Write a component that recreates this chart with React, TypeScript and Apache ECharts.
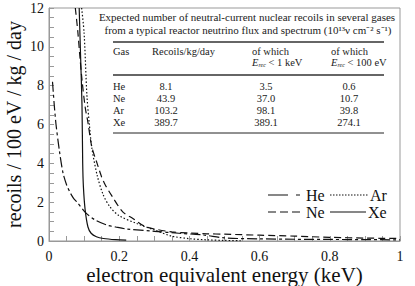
import React, { useEffect, useRef } from "react";
import * as echarts from "echarts";

// ---- data ----
const heX = [0.01, 0.015, 0.02, 0.03, 0.04, 0.05, 0.06, 0.07, 0.08, 0.105, 0.13, 0.165, 0.19, 0.22, 0.3, 0.37, 0.44, 0.5, 0.6, 0.7, 0.8, 0.9, 1.0];
const heY = [8.2, 7.0, 6.0, 4.6, 3.5, 2.9, 2.5, 2.2, 2.0, 1.45, 1.1, 0.82, 0.72, 0.62, 0.5, 0.4, 0.31, 0.16, 0.11, 0.09, 0.08, 0.07, 0.06];

const neX = [0.075, 0.082, 0.088, 0.094, 0.103, 0.111, 0.122, 0.137, 0.15, 0.16, 0.18, 0.21, 0.24, 0.27, 0.3, 0.35, 0.4, 0.45, 0.5, 0.6, 0.7, 0.8, 0.9, 1.0];
const neY = [12, 10.8, 9.5, 8.3, 6.9, 6.1, 4.85, 4.0, 3.3, 2.9, 2.3, 1.5, 1.15, 0.78, 0.62, 0.47, 0.41, 0.37, 0.35, 0.3, 0.25, 0.19, 0.15, 0.13];

const arX = [0.093, 0.1, 0.108, 0.115, 0.122, 0.137, 0.154, 0.174, 0.2, 0.25, 0.3, 0.35, 0.4, 0.45, 0.5, 0.55];
const arY = [12, 10.7, 7.5, 6.0, 4.8, 3.4, 2.4, 1.75, 1.3, 0.9, 0.57, 0.25, 0.12, 0.06, 0.03, 0.01];

const xeX = [0.086, 0.09, 0.094, 0.096, 0.098, 0.103, 0.111, 0.12, 0.135, 0.155, 0.19, 0.22];
const xeY = [12, 9.5, 7.0, 4.0, 2.8, 1.6, 0.72, 0.4, 0.22, 0.13, 0.07, 0.05];

const gases = ["He", "Ne", "Ar", "Xe"];
const recoilsTotal = ["8.1", "43.9", "103.2", "389.7"];
const recoilsBelow1keV = ["3.5", "37.0", "98.1", "389.1"];
const recoilsBelow100eV = ["0.6", "10.7", "39.8", "274.1"];

const xTicks = [0, 0.2, 0.4, 0.6, 0.8, 1];
const yTicks = [0, 2, 4, 6, 8, 10, 12];

const pair = (xs: number[], ys: number[]) => xs.map((x, i) => [x, ys[i]]);

const SERIF = "'Liberation Serif', 'Times New Roman', serif";

export default function App() {
  const ref = useRef<HTMLDivElement>(null);
  useEffect(() => {
    if (!ref.current) return;
    const chart = echarts.init(ref.current, undefined, { renderer: "svg" });
    const rowY = [86, 98, 110, 122];
    const tableText: any[] = [];
    const FS = 10.5;
    const T = (text: string, x: number, y: number, align = "left", extra: any = {}) => ({
      type: "text",
      x,
      y,
      style: {
        text,
        fontFamily: SERIF,
        fontSize: FS,
        fill: "#222",
        textAlign: align,
        textVerticalAlign: "middle",
        ...extra,
      },
    });
    tableText.push(T("Expected number of neutral-current nuclear recoils in several gases", 247, 17, "center", { fontSize: 11 }));
    tableText.push(T("from a typical reactor neutrino flux and spectrum (10\u00b9\u00b3\u03bd cm\u207b\u00b2 s\u207b\u00b9)", 248, 30, "center", { fontSize: 11 }));
    tableText.push(T("Gas", 113, 51));
    tableText.push(T("Recoils/kg/day", 152, 51));
    tableText.push(T("of which", 252, 51));
    tableText.push(T("of which", 331, 51));
    const rich = {
      e: { fontFamily: SERIF, fontSize: FS, fontStyle: "italic", fill: "#222" },
      s: { fontFamily: SERIF, fontSize: 6, fontStyle: "italic", fill: "#222", padding: [5, 0, 0, 0] },
      n: { fontFamily: SERIF, fontSize: FS, fill: "#222" },
    };
    tableText.push({ type: "text", x: 252, y: 62, style: { text: "{e|E}{s|rec}{n| < 1 keV}", rich, textVerticalAlign: "middle" } });
    tableText.push({ type: "text", x: 331, y: 62, style: { text: "{e|E}{s|rec}{n| < 100 eV}", rich, textVerticalAlign: "middle" } });
    gases.forEach((g, i) => {
      tableText.push(T(g, 113, rowY[i]));
      tableText.push(T(recoilsTotal[i], 166, rowY[i], "center"));
      tableText.push(T(recoilsBelow1keV[i], 266, rowY[i], "center"));
      tableText.push(T(recoilsBelow100eV[i], 349, rowY[i], "center"));
    });
    const rules = [
      { type: "line", shape: { x1: 113, y1: 42, x2: 384, y2: 42 }, style: { stroke: "#666", lineWidth: 2 } },
      { type: "line", shape: { x1: 113, y1: 75, x2: 384, y2: 75 }, style: { stroke: "#666", lineWidth: 2 } },
      { type: "line", shape: { x1: 113, y1: 133, x2: 384, y2: 133 }, style: { stroke: "#222", lineWidth: 1 } },
    ];
    const legendItems = [
      { name: "He", x: 268, y: 195, dash: [20, 8, 4, 100], tx: 306 },
      { name: "Ne", x: 268, y: 212, dash: [8, 4], tx: 306 },
      { name: "Ar", x: 330, y: 195, dash: [1.5, 1.5], tx: 370 },
      { name: "Xe", x: 330, y: 212, dash: null, tx: 368 },
    ];
    const legend: any[] = [];
    legendItems.forEach((l) => {
      legend.push({
        type: "line",
        shape: { x1: l.x, y1: l.y, x2: l.tx - 2, y2: l.y },
        style: { stroke: "#111", lineWidth: 1.2, lineDash: l.dash || undefined },
      });
      legend.push({
        type: "text",
        x: l.tx,
        y: l.y,
        style: { text: l.name, fontFamily: SERIF, fontSize: 16, fill: "#111", textVerticalAlign: "middle" },
      });
    });

    const line = (name: string, data: any[], type: any) => ({
      name,
      type: "line",
      data,
      showSymbol: false,
      smooth: 0.3,
      lineStyle: { color: "#111", width: 1.2, type },
    });

    chart.setOption({
      animation: false,
      grid: { left: 49, right: 15, top: 8, bottom: 45, show: true, borderColor: "#999", borderWidth: 1, containLabel: false, outerBoundsMode: "none" },
      xAxis: {
        type: "value",
        min: 0,
        max: 1,
        interval: 0.2,
        name: "electron equivalent energy (keV)",
        nameLocation: "middle",
        nameGap: 23,
        nameMoveOverlap: false,
        nameTextStyle: { fontFamily: SERIF, fontSize: 21, color: "#111" },
        axisLine: { show: true, lineStyle: { color: "#999" } },
        axisTick: { show: true, inside: true, length: 5, lineStyle: { color: "#999" } },
        minorTick: { show: true, splitNumber: 4, length: 5, lineStyle: { color: "#999" } },
        splitLine: { show: false },
        axisLabel: {
          fontFamily: SERIF,
          fontSize: 14,
          color: "#111",
          margin: 8,
          formatter: (v: number) => (xTicks.some((t) => Math.abs(t - v) < 1e-9) ? String(+v.toFixed(1)) : ""),
        },
      },
      yAxis: {
        type: "value",
        min: 0,
        max: 12,
        interval: 2,
        name: "recoils / 100 eV / kg / day",
        nameLocation: "middle",
        nameGap: 25,
        nameMoveOverlap: false,
        nameTextStyle: { fontFamily: SERIF, fontSize: 20, color: "#111" },
        axisLine: { show: true, lineStyle: { color: "#999" } },
        axisTick: { show: true, inside: true, length: 5, lineStyle: { color: "#999" } },
        minorTick: { show: true, splitNumber: 4, length: 5, lineStyle: { color: "#999" } },
        splitLine: { show: false },
        axisLabel: {
          fontFamily: SERIF,
          fontSize: 14,
          color: "#111",
          margin: 5,
          formatter: (v: number) => (yTicks.includes(v) ? String(v) : ""),
        },
      },
      series: [
        line("He", pair(heX, heY), [10, 3, 3, 3]),
        line("Ne", pair(neX, neY), [7, 4]),
        line("Ar", pair(arX, arY), [1.5, 2]),
        line("Xe", pair(xeX, xeY), "solid"),
      ],
      graphic: [...tableText, ...rules, ...legend],
    });
    return () => chart.dispose();
  }, []);
  return <div ref={ref} style={{ position: "fixed", left: 0, top: 0, width: 415, height: 286, background: "#fff" }} />;
}
